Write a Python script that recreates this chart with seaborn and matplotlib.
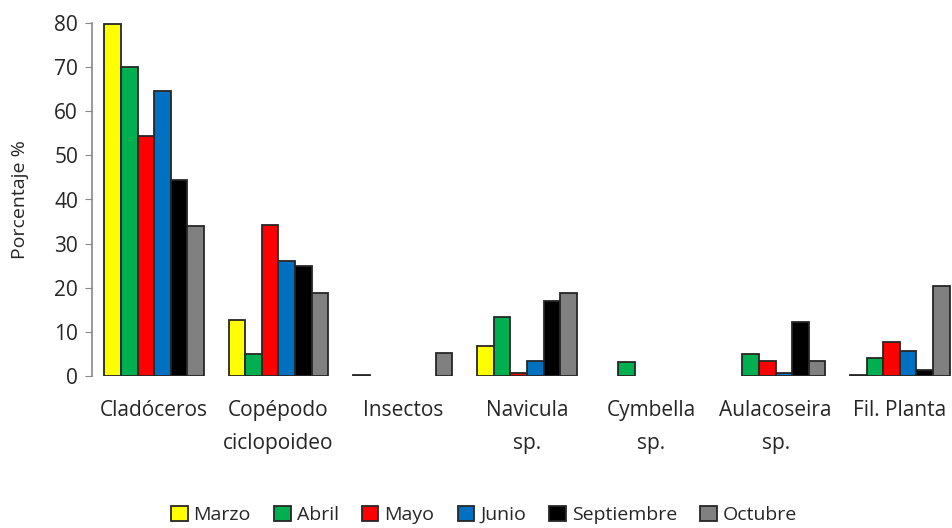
import numpy as np
import pandas as pd
import matplotlib as mpl
from matplotlib import pyplot as plt
import seaborn as sns

sns.set_style("white")
plt.rcParams['font.family'] = ['Open Sans', 'DejaVu Sans']

categories = ['Cladóceros', 'Copépodo\nciclopoideo', 'Insectos', 'Navicula\nsp.',
              'Cymbella\nsp.', 'Aulacoseira\nsp.', 'Fil. Planta']
months = ['Marzo', 'Abril', 'Mayo', 'Junio', 'Septiembre', 'Octubre']
colors = ['#FFFF00', '#00B050', '#FF0000', '#0070C0', '#000000', '#808080']

nan = np.nan
marzo      = [79.7, 12.7, 0.3, 6.8, nan, nan, 0.3]
abril      = [70.0, 5.0, nan, 13.3, 3.2, 5.0, 4.0]
mayo       = [54.3, 34.2, nan, 0.6, nan, 3.4, 7.7]
junio      = [64.5, 26.0, nan, 3.4, nan, 0.6, 5.7]
septiembre = [44.4, 25.0, nan, 17.0, nan, 12.3, 1.4]
octubre    = [34.0, 18.8, 5.2, 18.8, nan, 3.4, 20.4]

series = [marzo, abril, mayo, junio, septiembre, octubre]
df = pd.DataFrame([{'grupo': c, 'mes': m, 'pct': v}
                   for m, vals in zip(months, series)
                   for c, v in zip(categories, vals)])

fig = plt.figure(figsize=(9.52, 5.28), dpi=100)
ax = fig.add_axes([92 / 952, 1 - 376 / 528, (962 - 92) / 952, (376 - 23) / 528])

sns.barplot(data=df.dropna(), x='grupo', y='pct', hue='mes', order=categories,
            hue_order=months, palette=colors, width=0.8, edgecolor='#262626',
            linewidth=1.3, saturation=1, ax=ax, legend=True)

ax.set_ylim(0, 80)
ax.set_xlim(-0.5, len(categories) - 0.5)
ax.set_yticks(range(0, 81, 10))
ax.set_xlabel('')
ax.set_ylabel('Porcentaje %', fontsize=14, labelpad=18)
ax.tick_params(axis='y', which='both', left=True, length=5, color='#888888',
               labelsize=15, pad=5)
ax.tick_params(axis='x', bottom=False, labelsize=15, pad=14)
for lbl in ax.get_xticklabels():
    lbl.set_linespacing(1.75)
for s in ['top', 'right', 'bottom']:
    ax.spines[s].set_visible(False)
ax.spines['left'].set_color('#888888')
ax.spines['left'].set_linewidth(1.2)

handles, labels = ax.get_legend_handles_labels()
ax.legend_.remove()
fig.legend(handles, labels, loc='center', bbox_to_anchor=(484 / 952, 1 - 515 / 528),
           ncol=6, frameon=False, fontsize=14, handlelength=0.85, handleheight=0.85,
           handletextpad=0.3, columnspacing=1.2)

fig.savefig('out.png', dpi=100)
